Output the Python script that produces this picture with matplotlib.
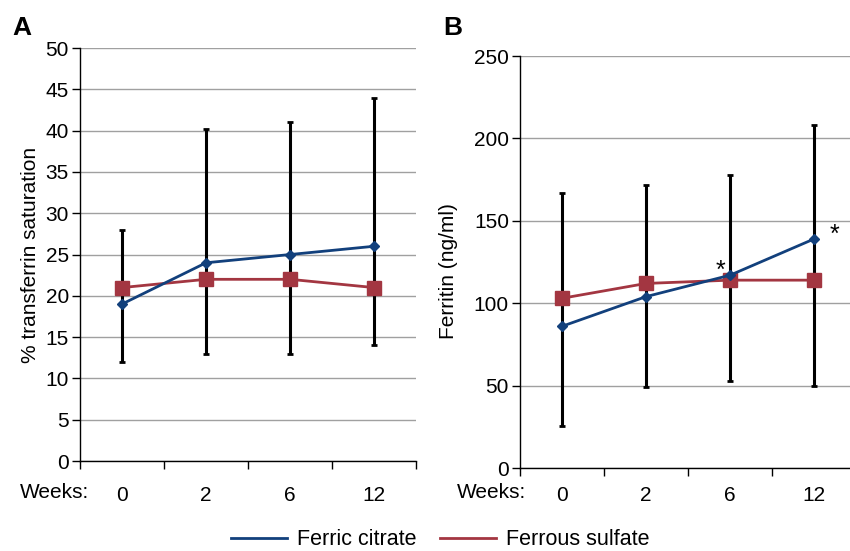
import matplotlib.pyplot as plt

plt.rcParams['font.family'] = ['Liberation Sans', 'DejaVu Sans']

weeks = ['0', '2', '6', '12']

# panel A: % transferrin saturation
tsat_ferric = [19, 24, 25, 26]
tsat_ferrous = [21, 22, 22, 21]
tsat_low = [12, 13, 13, 14]
tsat_high = [28, 40.2, 41, 44]

# panel B: ferritin (ng/ml)
ferr_ferric = [86, 104, 117, 139]
ferr_ferrous = [103, 112, 114, 114]
ferr_low = [25.5, 49, 53, 50]
ferr_high = [167, 172, 178, 208]
ferr_star = [False, False, True, True]

blue = '#12407c'
red = '#a33641'
fs = 15

fig = plt.figure(figsize=(8.5, 5.51), dpi=100)
axA = fig.add_axes([0.0941, 0.1633, 0.3953, 0.7495])
axB = fig.add_axes([0.6118, 0.1506, 0.3953, 0.7477])


def draw_panel(ax, ferric, ferrous, low, high, ymax, step, ylabel, xpad):
    x = list(range(len(weeks)))
    ax.set_axisbelow(True)
    ax.yaxis.grid(True, color='#a0a0a0', linewidth=1)
    lower = [f - l for f, l in zip(ferric, low)]
    upper = [h - f for f, h in zip(ferric, high)]
    ax.errorbar(x, ferric, yerr=[lower, upper], fmt='none', ecolor='black',
                elinewidth=2.2, capsize=2.5, capthick=2, zorder=2)
    ax.plot(x, ferrous, color=red, linewidth=2, marker='s', markersize=10,
            label='Ferrous sulfate', zorder=3)
    ax.plot(x, ferric, color=blue, linewidth=2, marker='D', markersize=5.5,
            label='Ferric citrate', zorder=4)
    ax.set_xlim(-0.5, 3.5)
    ax.set_ylim(0, ymax)
    ax.set_yticks(range(0, ymax + 1, step))
    ax.set_xticks(x)
    ax.set_xticklabels(weeks)
    ax.set_xticks([-0.5, 0.5, 1.5, 2.5, 3.5], minor=True)
    ax.tick_params(axis='x', which='major', length=0, labelsize=fs, pad=xpad)
    ax.tick_params(axis='x', which='minor', length=6, width=1)
    ax.tick_params(axis='y', length=6, width=1, labelsize=fs, pad=2)
    for s in ['top', 'right']:
        ax.spines[s].set_visible(False)
    ax.spines['left'].set_linewidth(1)
    ax.spines['bottom'].set_linewidth(1)
    ax.set_ylabel(ylabel, fontsize=fs)


draw_panel(axA, tsat_ferric, tsat_ferrous, tsat_low, tsat_high, 50, 5,
           '% transferrin saturation', 18)
draw_panel(axB, ferr_ferric, ferr_ferrous, ferr_low, ferr_high, 250, 50,
           'Ferritin (ng/ml)', 13)
axA.yaxis.set_label_coords(-0.12, 0.5)
axB.yaxis.set_label_coords(-0.186, 0.478)

fig.text(55 / 850, 1 - 493 / 551, 'Weeks:', fontsize=fs, ha='center', va='center')
fig.text(492 / 850, 1 - 493 / 551, 'Weeks:', fontsize=fs, ha='center', va='center')

for i, s in enumerate(ferr_star):
    if s:
        axB.annotate('*', (i, ferr_ferric[i]), xytext=(-7 if i == 2 else 15, 3),
                     textcoords='offset points', ha='center', va='center',
                     fontsize=18)

fig.text(0.014, 0.95, 'A', fontsize=19, fontweight='bold', va='center')
fig.text(0.521, 0.95, 'B', fontsize=19, fontweight='bold', va='center')

fig.legend([plt.Line2D([], [], color=blue, linewidth=2),
            plt.Line2D([], [], color=red, linewidth=2)],
           ['Ferric citrate', 'Ferrous sulfate'],
           loc='center', bbox_to_anchor=(0.518, 0.02), ncol=2, frameon=False,
           fontsize=15.5, handlelength=2.6, columnspacing=1.1, handletextpad=0.45)

fig.savefig('out.png', dpi=100)
